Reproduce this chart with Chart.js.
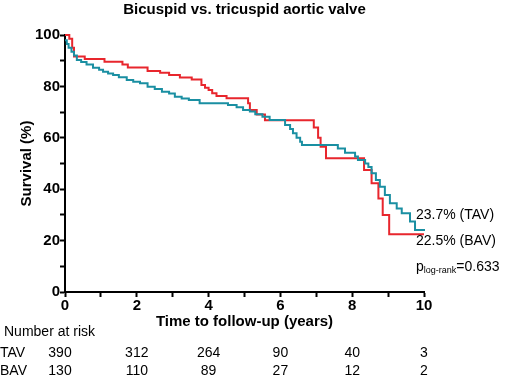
<!DOCTYPE html>
<html>
<head>
<meta charset="utf-8">
<script src="https://cdn.jsdelivr.net/npm/chart.js@4.4.1/dist/chart.umd.min.js"></script>
<style>
  html, body { margin: 0; padding: 0; background: #fff; }
  #wrap { width: 510px; height: 378px; position: relative; }
</style>
</head>
<body>
<div id="wrap"><canvas id="km_chart"></canvas></div>
<script>
// Kaplan-Meier steps: [time (years), survival (%)]
const tavTime = [0, 0.05, 0.1, 0.18, 0.25, 0.33, 0.45, 0.6, 0.78, 0.95, 1.06, 1.2, 1.34, 1.5, 1.72, 1.9, 2.09, 2.3, 2.5, 2.7, 2.9, 3.06, 3.25, 3.45, 3.75, 4.54, 4.78, 4.96, 5.15, 5.3, 5.5, 5.7, 6.13, 6.27, 6.35, 6.45, 6.55, 6.6, 7.6, 7.8, 8.08, 8.16, 8.36, 8.45, 8.54, 8.66, 8.77, 8.91, 9.05, 9.24, 9.38, 9.61, 9.75, 10];
const tavSurv = [98, 96.5, 95, 93.5, 92, 90.3, 89.5, 88.5, 87.3, 86.5, 85.7, 85, 84.4, 83.6, 82.5, 81.8, 81.2, 79.9, 79, 77.9, 77.2, 76, 75.3, 74.7, 73.4, 72.8, 71.9, 70.8, 70.2, 69.2, 68.2, 66.9, 65, 63.4, 61.8, 60, 58.5, 57.2, 55.8, 54.2, 52.7, 51.4, 50, 48.6, 46.2, 43.6, 41, 37.7, 34.5, 32.5, 30.6, 27.4, 24.1, 23.7];

const bavTime = [0, 0.12, 0.2, 0.25, 0.55, 1.1, 1.6, 1.75, 2.3, 2.65, 2.9, 3.2, 3.53, 3.8, 3.9, 4.0, 4.1, 4.22, 4.5, 5.1, 5.15, 5.34, 5.57, 6.93, 7.05, 7.12, 7.27, 8.33, 8.54, 8.73, 8.85, 9.03, 10];
const bavSurv = [100, 98.5, 95, 91.6, 90.7, 89.6, 88.5, 87.4, 86, 85.3, 84.4, 83.5, 82.7, 80.5, 79.5, 78.6, 77.3, 76.3, 75.4, 73.4, 70.8, 69.1, 66.8, 64, 60, 56.5, 52, 47.5, 42.3, 36.4, 30, 22.5, 22.5];

const xTicks = [0, 2, 4, 6, 8, 10];
const yTicks = [0, 20, 40, 60, 80, 100];

// number at risk
const riskTimes = [0, 2, 4, 6, 8, 10];
const tavRisk = [390, 312, 264, 90, 40, 3];
const bavRisk = [130, 110, 89, 27, 12, 2];

const FONT = "'Liberation Sans', Arial, sans-serif";
const RED = '#e8262d';
const TEAL = '#1a8fa2';

const toPoints = (t, s) => t.map((v, i) => ({x: v, y: s[i]}));

// title, end labels and the risk table
const extraText = {
    id: 'extraText',
    afterDraw(chart) {
        const {ctx, chartArea, scales} = chart;
        const xs = scales.x;
        ctx.save();
        ctx.fillStyle = '#000';
        ctx.textBaseline = 'middle';

        ctx.font = 'bold 15px ' + FONT;
        ctx.textAlign = 'center';
        ctx.fillText('Bicuspid vs. tricuspid aortic valve', (chartArea.left + chartArea.right) / 2, 10);

        ctx.font = '14px ' + FONT;
        ctx.textAlign = 'left';
        const lx = chartArea.right - 8;
        ctx.fillText('23.7% (TAV)', lx, 215);
        ctx.fillText('22.5% (BAV)', lx, 241);
        ctx.fillText('p', lx, 267);
        let w = ctx.measureText('p').width;
        ctx.font = '9px ' + FONT;
        ctx.fillText('log-rank', lx + w, 271);
        w += ctx.measureText('log-rank').width;
        ctx.font = '14px ' + FONT;
        ctx.fillText('=0.633', lx + w, 267);

        // risk table
        ctx.fillText('Number at risk', 4, 332);
        ctx.fillText('TAV', 0, 353);
        ctx.fillText('BAV', 0, 371);
        ctx.textAlign = 'center';
        riskTimes.forEach((t, i) => {
            const px = xs.getPixelForValue(t) - (i === 0 ? 5 : 0);
            ctx.fillText(String(tavRisk[i]), px, 353);
            ctx.fillText(String(bavRisk[i]), px, 371);
        });
        ctx.restore();
    }
};

const ctx = document.getElementById('km_chart').getContext('2d');

const km_chart = new Chart(ctx, {
    type: 'line',
    data: {
        datasets: [
            {
                label: 'TAV',
                data: toPoints(tavTime, tavSurv),
                borderColor: TEAL,
                borderWidth: 2,
                stepped: 'before',
                pointRadius: 0,
                fill: false,
                clip: 4,
            },
            {
                label: 'BAV',
                data: toPoints(bavTime, bavSurv),
                borderColor: RED,
                borderWidth: 2,
                stepped: 'before',
                pointRadius: 0,
                fill: false,
                clip: 4,
            }
        ]
    },
    options: {
        responsive: true,
        maintainAspectRatio: false,
        animation: false,
        layout: {
            padding: {left: 0, right: 86, top: 35, bottom: 46}
        },
        plugins: {
            legend: { display: false },
            tooltip: { enabled: false },
        },
        scales: {
            x: {
                type: 'linear',
                min: 0,
                max: 10,
                afterFit: (scale) => { scale.height = 40; },
                afterBuildTicks: (scale) => {
                    scale.ticks = [0, 1, 2, 3, 4, 5, 6, 7, 8, 9, 10].map(v => ({value: v}));
                },
                border: { color: '#000', width: 2 },
                grid: {
                    drawOnChartArea: false,
                    drawTicks: true,
                    tickLength: 5,
                    tickColor: '#000',
                    tickWidth: 2,
                },
                ticks: {
                    autoSkip: false,
                    maxRotation: 0,
                    padding: 0,
                    color: '#000',
                    font: { family: FONT, size: 15, weight: 'bold' },
                    callback: (v) => xTicks.includes(v) ? String(v) : '',
                },
                title: {
                    display: true,
                    text: 'Time to follow-up (years)',
                    color: '#000',
                    font: { family: FONT, size: 15, weight: 'bold' },
                    padding: { top: 0, bottom: 1 },
                }
            },
            y: {
                min: 0,
                max: 100,
                afterFit: (scale) => { scale.width = 65; },
                afterBuildTicks: (scale) => {
                    scale.ticks = [0, 10, 20, 30, 40, 50, 60, 70, 80, 90, 100].map(v => ({value: v}));
                },
                border: { color: '#000', width: 2 },
                grid: {
                    drawOnChartArea: false,
                    drawTicks: true,
                    tickLength: 5,
                    tickColor: '#000',
                    tickWidth: 2,
                },
                ticks: {
                    autoSkip: false,
                    padding: 0,
                    color: '#000',
                    font: { family: FONT, size: 15, weight: 'bold' },
                    callback: (v) => yTicks.includes(v) ? String(v) : '',
                },
                title: {
                    display: true,
                    text: 'Survival (%)',
                    color: '#000',
                    font: { family: FONT, size: 15, weight: 'bold' },
                    padding: { top: 18, bottom: 0 },
                }
            }
        }
    },
    plugins: [extraText]
});
</script>
</body>
</html>
